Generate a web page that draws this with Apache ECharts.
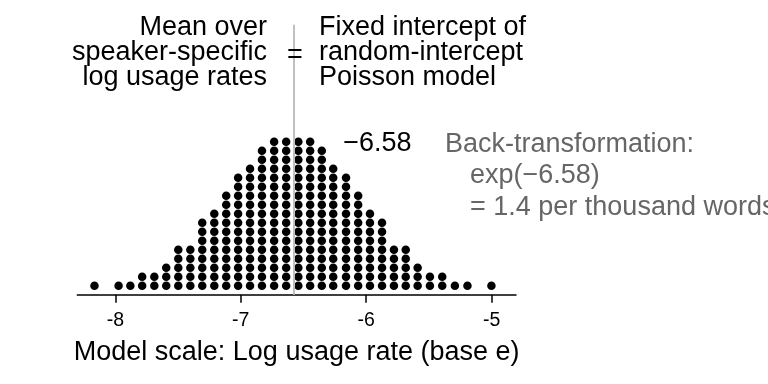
<!DOCTYPE html>
<html>
<head>
<meta charset="utf-8">
<script src="https://cdn.jsdelivr.net/npm/echarts@6/dist/echarts.min.js"></script>
<style>html,body{margin:0;padding:0;background:#fff}#c{width:768px;height:384px}</style>
</head>
<body>
<div id="c"></div>
<script>
// Bin centres (log usage rate) and number of stacked dots per bin
const binCenters = [-8.166, -7.974, -7.880, -7.786, -7.689, -7.594, -7.498, -7.402, -7.307, -7.211,
  -7.116, -7.021, -6.926, -6.831, -6.734, -6.638, -6.541, -6.447, -6.354, -6.263,
  -6.161, -6.064, -5.970, -5.874, -5.779, -5.685, -5.590, -5.492, -5.394, -5.293,
  -5.193, -5.002];
const binCounts = [1, 1, 1, 2, 2, 3, 5, 5, 8, 9,
  11, 13, 14, 16, 17, 17, 17, 17, 16, 14,
  13, 11, 9, 8, 5, 5, 3, 2, 2, 1,
  1, 1];
const tickValues = [-8, -7, -6, -5];
const interceptValue = -6.58;
const interceptLabel = '\u22126.58';
const leftLines = ['Mean over', 'speaker-specific', 'log usage rates'];
const rightLines = ['Fixed intercept of', 'random-intercept', 'Poisson model'];
const backLines = ['Back-transformation:', 'exp(\u22126.58)', '= 1.4 per thousand words'];
const axisTitle = 'Model scale: Log usage rate (base e)';

const points = [];
binCenters.forEach((x, i) => {
  for (let k = 0; k < binCounts[i]; k++) points.push([x, k + 1]);
});

const FONT = "'Liberation Sans', Arial, sans-serif";
const FS = 27;
const chart = echarts.init(document.getElementById('c'), null, {renderer: 'canvas'});
chart.setOption({
  animation: false,
  backgroundColor: '#fff',
  grid: {left: 77.3, right: 252, top: 24.7, bottom: 89.3},
  xAxis: {
    type: 'value', min: -8.303, max: -4.806,
    axisLine: {show: true, lineStyle: {color: '#000', width: 1.5}},
    axisTick: {show: true, customValues: tickValues, length: 8, lineStyle: {color: '#000', width: 1.5}},
    axisLabel: {show: true, customValues: tickValues, margin: 16, color: '#000', fontSize: 19.5, fontFamily: FONT},
    splitLine: {show: false},
    name: axisTitle, nameLocation: 'middle', nameGap: 44,
    nameTextStyle: {color: '#000', fontSize: FS, fontFamily: FONT}
  },
  yAxis: {type: 'value', min: 0, max: 30, show: false},
  series: [{
    type: 'scatter', data: points, symbol: 'circle', symbolSize: 8.5,
    itemStyle: {color: '#000', opacity: 1}, silent: true, z: 2,
    markLine: {
      silent: true, symbol: 'none', label: {show: false}, z: 3,
      lineStyle: {color: '#c0c0c0', width: 2, type: 'solid', opacity: 1},
      data: [{xAxis: interceptValue}]
    }
  }],
  graphic: [
    {type: 'text', z: 100, x: 267, y: 53, style: {text: leftLines.join('\n'), font: FS + 'px ' + FONT, lineHeight: 25, fill: '#000', align: 'right', verticalAlign: 'middle'}},
    {type: 'text', z: 100, x: 295, y: 56, style: {text: '=', font: FS + 'px ' + FONT, fill: '#000', align: 'center', verticalAlign: 'middle'}},
    {type: 'text', z: 100, x: 319, y: 53, style: {text: rightLines.join('\n'), font: FS + 'px ' + FONT, lineHeight: 25, fill: '#000', align: 'left', verticalAlign: 'middle'}},
    {type: 'text', z: 100, x: 343.3, y: 143.1, style: {text: interceptLabel, font: FS + 'px ' + FONT, fill: '#000', align: 'left', verticalAlign: 'middle'}},
    {type: 'text', z: 100, x: 445, y: 144.1, style: {text: backLines[0], font: FS + 'px ' + FONT, fill: '#666', align: 'left', verticalAlign: 'middle'}},
    {type: 'text', z: 100, x: 470, y: 175.8, style: {text: backLines[1], font: FS + 'px ' + FONT, fill: '#666', align: 'left', verticalAlign: 'middle'}},
    {type: 'text', z: 100, x: 470, y: 207.5, style: {text: backLines[2], font: FS + 'px ' + FONT, fill: '#666', align: 'left', verticalAlign: 'middle'}}
  ]
});
</script>
</body>
</html>
